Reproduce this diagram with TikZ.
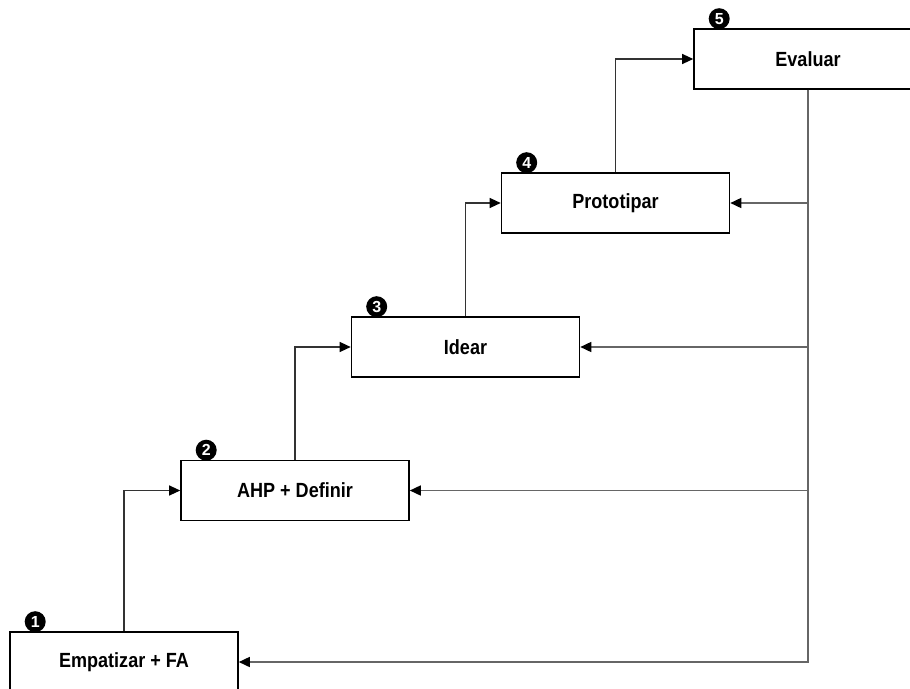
\documentclass[tikz,border=0pt]{standalone}
\usepackage{fontspec}
\setmainfont{Liberation Sans}[FakeStretch=0.88]
\newfontfamily\digitfont{Liberation Sans}
\usetikzlibrary{arrows.meta}
\begin{document}
\begin{tikzpicture}[x=1pt,y=-1pt,
  stage/.style={draw=black, line width=1.6pt, fill=white, rectangle,
    minimum width=228pt, minimum height=60pt, inner sep=0pt,
    font=\fontsize{20.5}{24}\selectfont\bfseries},
  marker/.style={circle, fill=black, minimum size=21pt, inner sep=0pt,
    text=white, font=\digitfont\fontsize{16}{16}\selectfont\bfseries},
  tip/.style={-{Triangle[length=11pt,width=10pt,color=black]}},
  link/.style={draw=black!80, line width=1.2pt, tip},
  feedback/.style={draw=black!60, line width=1.6pt, tip}]
  \path[use as bounding box] (0,0) rectangle (910,688);
  \clip (0,0) rectangle (910,688);

  % the five stages, climbing to the right
  \node[stage] (s1) at (124,662)   {Empatizar + FA};
  \node[stage] (s2) at (295,490.5) {AHP + Definir};
  \node[stage] (s3) at (465.5,347) {Idear};
  \node[stage] (s4) at (615.5,203) {Prototipar};
  \node[stage] (s5) at (808,59)    {Evaluar};

  % numbered markers above each stage
  \foreach \i in {1,...,5}
    \node[marker, xshift=26pt, yshift=9.5pt] (m\i) at (s\i.north west) {\i};

  % forward path: top of one stage to the left side of the next
  \draw[link] (s1.north) |- (s2.west);
  \draw[link] (s2.north) |- (s3.west);
  \draw[link] (s3.north) |- (s4.west);
  \draw[link] (s4.north) |- (s5.west);

  % feedback from Evaluar to every earlier stage
  \draw[feedback] (s5.south) |- (s4.east);
  \draw[feedback] (s5.south) |- (s3.east);
  \draw[feedback] (s5.south) |- (s2.east);
  \draw[feedback] (s5.south) |- (s1.east);
\end{tikzpicture}
\end{document}
